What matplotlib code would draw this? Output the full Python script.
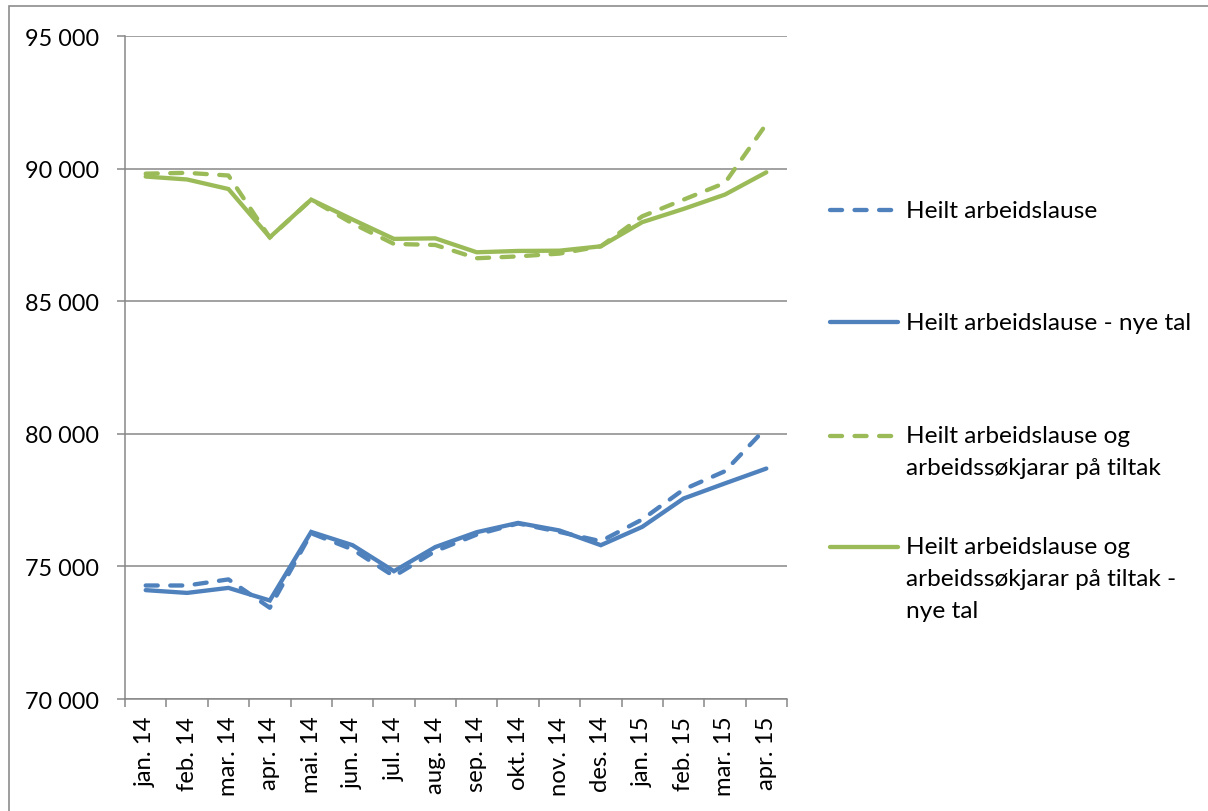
import matplotlib
matplotlib.use("Agg")
import matplotlib.pyplot as plt
from matplotlib.lines import Line2D
from matplotlib.patches import Rectangle

plt.rcParams["font.family"] = ["Lato", "DejaVu Sans"]

months = ["jan. 14", "feb. 14", "mar. 14", "apr. 14", "mai. 14", "jun. 14", "jul. 14", "aug. 14",
          "sep. 14", "okt. 14", "nov. 14", "des. 14", "jan. 15", "feb. 15", "mar. 15", "apr. 15"]
heilt = [74280, 74280, 74510, 73440, 76250, 75640, 74630, 75575,
         76200, 76620, 76300, 75950, 76770, 77900, 78590, 80230]
heilt_nye = [74105, 74000, 74190, 73715, 76300, 75800, 74820, 75730,
             76290, 76640, 76355, 75800, 76490, 77560, 78130, 78690]
heilt_tiltak = [89810, 89840, 89740, 87400, 88830, 87930, 87160, 87120,
                86620, 86690, 86795, 87070, 88200, 88830, 89460, 91680]
heilt_tiltak_nye = [89700, 89590, 89230, 87410, 88830, 88080, 87350, 87370,
                    86845, 86895, 86905, 87070, 87980, 88480, 89020, 89860]
yticks = [70000, 75000, 80000, 85000, 90000, 95000]
ylabels = ["70 000", "75 000", "80 000", "85 000", "90 000", "95 000"]

labels = ["Heilt arbeidslause", "Heilt arbeidslause - nye tal",
          "Heilt arbeidslause og\narbeidssøkjarar på tiltak",
          "Heilt arbeidslause og\narbeidssøkjarar på tiltak -\nnye tal"]

BLUE, GREEN, GRID = "#4f81bd", "#9bbb59", "#878787"
W, H = 1208, 812
FS = 16.8
FS_LEG = 17.6


def px(x, y):
    return x / W, 1 - y / H


fig = plt.figure(figsize=(W / 100, H / 100), dpi=100)
# outer chart frame (only left and top edges are inside the picture)
fig.patches.append(Rectangle(px(9, 830), 1.2, (830 - 7) / H, transform=fig.transFigure,
                             fill=False, ec="#8c8c8c", lw=1.2))

ax = fig.add_axes([125 / W, (H - 700) / H, (787 - 125) / W, 663 / H])
x = list(range(len(months)))
dash = dict(ls=(0, (2.8, 2.9)), dash_capstyle="round")
series = [
    (heilt, BLUE, dash),
    (heilt_nye, BLUE, dict(ls="-")),
    (heilt_tiltak, GREEN, dash),
    (heilt_tiltak_nye, GREEN, dict(ls="-")),
]
for vals, col, st in series:
    ax.plot(x, vals, color=col, lw=3.1, solid_capstyle="round", solid_joinstyle="miter", **st)

ax.set_xlim(-0.5, len(months) - 0.5)
ax.set_ylim(70000, 95000)
ax.set_yticks(yticks)
ax.set_yticklabels(ylabels, fontsize=FS, color="black")
ax.set_xticks(x)
ax.set_xticklabels(months, rotation=90, fontsize=FS + 0.4, va="top", ha="center", color="black")
ax.set_xticks([i - 0.5 for i in range(len(months) + 1)], minor=True)
ax.tick_params(axis="x", which="major", length=0, pad=12)
ax.tick_params(axis="x", which="minor", length=5.5, width=1.1, color=GRID, direction="out")
ax.tick_params(axis="y", length=5.5, width=1.1, color=GRID, pad=13, direction="out")
ax.grid(axis="y", color=GRID, lw=1.1)
ax.set_axisbelow(True)
for s in ["top", "right"]:
    ax.spines[s].set_visible(False)
for s in ["left", "bottom"]:
    ax.spines[s].set_color(GRID)
    ax.spines[s].set_linewidth(1.1)

# legend, laid out like the Excel one (handle next to the first text line)
leg_y = [211, 323, 437, 548]
for (vals, col, st), lab, ly in zip(series, labels, leg_y):
    x0, y0 = px(830, ly)
    x1, _ = px(898, ly)
    fig.add_artist(Line2D([x0, x1], [y0, y0], transform=fig.transFigure, color=col, lw=3.1,
                          solid_capstyle="round", **st))
    for k, line in enumerate(lab.split("\n")):
        fig.text(*px(906, ly + 32 * k), line, fontsize=FS_LEG, va="center", ha="left", color="black")

fig.savefig("out.png", dpi=100, facecolor="white")
